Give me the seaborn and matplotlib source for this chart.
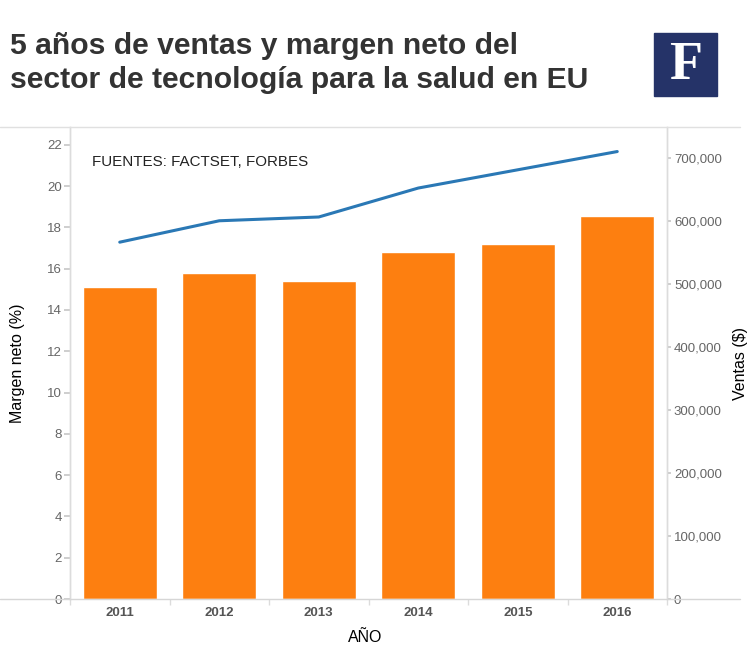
import matplotlib
matplotlib.use("Agg")
import matplotlib.pyplot as plt
import matplotlib.ticker as mticker
from matplotlib.lines import Line2D
from matplotlib.patches import Rectangle
import seaborn as sns
import pandas as pd

years = ["2011", "2012", "2013", "2014", "2015", "2016"]
margen_neto = [15.1, 15.8, 15.4, 16.8, 17.2, 18.55]
ventas = [567000, 601000, 607000, 653000, 682000, 711000]
left_ticks = list(range(0, 23, 2))
right_ticks = list(range(0, 700001, 100000))

sns.set_theme(style="white")
plt.rcParams['font.family'] = ['Liberation Sans', 'DejaVu Sans']

df = pd.DataFrame({"year": years, "margen": margen_neto, "ventas": ventas})

fig = plt.figure(figsize=(7.53, 6.64), dpi=100)
ax = fig.add_axes([70/753, 1-599/664, (667-70)/753, (599-127)/664])

sns.barplot(data=df, x="year", y="margen", color="#fd7f10", saturation=1,
            width=0.745, ax=ax)
ax2 = ax.twinx()
sns.lineplot(data=df, x="year", y="ventas", color="#2a78b5", linewidth=2.2,
             sort=False, ax=ax2)

ax.set_xlim(-0.5, 5.5)
ax.set_ylim(0, 22.86)
ax2.set_ylim(0, 750000)
ax.set_yticks(left_ticks)
ax2.set_yticks(right_ticks)
ax2.yaxis.set_major_formatter(mticker.FuncFormatter(lambda v, p: f"{int(v):,}"))

gray = "#dcdcdc"
for a in (ax, ax2):
    a.spines["top"].set_visible(False)
    a.spines["bottom"].set_visible(False)
    a.spines["left"].set_color(gray)
    a.spines["right"].set_color(gray)
    a.spines["left"].set_linewidth(1)
    a.spines["right"].set_linewidth(1)

ax.tick_params(axis="y", which="both", left=True, length=4, color="#c8c8c8",
               labelsize=9.5, labelcolor="#666666", pad=2)
ax2.tick_params(axis="y", right=True, length=3, color="#c8c8c8",
                labelsize=9.5, labelcolor="#666666", pad=2)
ax.set_xticks(range(len(years)))
ax.set_xticklabels(years, fontweight="bold", color="#555555", fontsize=9.5)
ax.set_xticks([i + 0.5 for i in range(-1, len(years))], minor=True)
ax.tick_params(axis="x", which="major", length=0, pad=6)
ax.tick_params(axis="x", which="minor", bottom=True, length=4, color=gray)

ax.set_xlabel("")
ax.set_ylabel("")
ax2.set_ylabel("Ventas ($)", fontsize=11.5, color="black", labelpad=8)
fig.text(365/753, 1-637/664, "AÑO", fontsize=11.5, color="black",
         ha="center", va="center")
fig.text(18/753, 1-363/664, "Margen neto (%)", fontsize=11.5, color="black",
         ha="center", va="center", rotation=90)

fig.text(92/753, 1-162/664, "FUENTES: FACTSET, FORBES",
         fontsize=10.9, color="#222222", va="center", ha="left")

# horizontal frame lines
fig.add_artist(Line2D([0, 740/753], [1-127/664, 1-127/664], color="#e0e0e0", lw=1,
                      transform=fig.transFigure))
fig.add_artist(Line2D([0, 740/753], [1-599/664, 1-599/664], color="#d6d6d6", lw=1,
                      transform=fig.transFigure))

# title
fig.text(10/753, 1-46/664, "5 años de ventas y margen neto del", fontsize=21.7,
         fontweight="bold", color="#333333", va="center", ha="left")
fig.text(10/753, 1-80/664, "sector de tecnología para la salud en EU", fontsize=21.7,
         fontweight="bold", color="#333333", va="center", ha="left")

# logo
fig.add_artist(Rectangle((654/753, 1-96/664), 63/753, 63/664, color="#253368",
                         transform=fig.transFigure))
fig.text(686/753, 1-66/664, "F", fontsize=39, fontweight="bold",
         family="Liberation Serif", color="white", ha="center", va="center")

fig.savefig("out.png", dpi=100)
